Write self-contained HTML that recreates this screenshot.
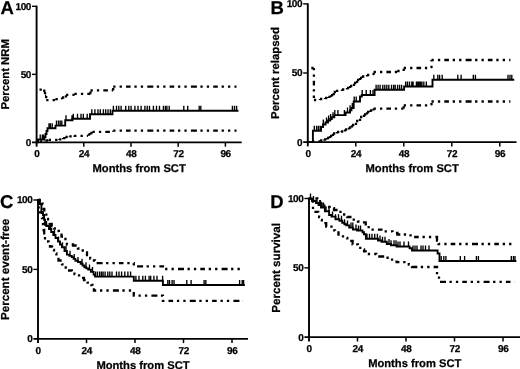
<!DOCTYPE html>
<html><head><meta charset="utf-8"><style>
html,body{margin:0;padding:0;background:#fff;}
svg{display:block;will-change:transform;}
text{font-family:"Liberation Sans", sans-serif;font-weight:bold;fill:#000;text-rendering:geometricPrecision;stroke:#000;stroke-width:0.25px;}
</style></head><body>
<svg width="520" height="369" viewBox="0 0 520 369">
<path d="M39.50,89.60H44.30M44.30,89.60V92.00M44.30,92.00H45.00M45.00,92.00V96.00M45.00,96.00H46.20M46.20,96.00V100.20M46.20,100.20H55.50M55.50,100.20V99.20M55.50,99.20H62.00M62.00,99.20V97.50M62.00,97.50H66.00M66.00,97.50V94.80M66.00,94.80H74.50M74.50,94.80V93.80M74.50,93.80H90.50M90.50,93.80V90.30M90.50,90.30H113.20M113.20,90.30V86.70M113.20,86.70H236.50" fill="none" stroke="#000" stroke-width="2.3" stroke-dasharray="2.3 4.1 2.3 4.1 4.6 3.8 2.3 4.1 2.3 4.2 6 3.5"/>
<path d="M39.80,141.50H45.80M45.80,141.50V140.50M45.80,140.50H48.70M48.70,140.50V139.90M48.70,139.90H59.10M59.10,139.90V139.30M59.10,139.30H63.10M63.10,139.30V138.10M63.10,138.10H65.40M65.40,138.10V137.00M65.40,137.00H69.40M69.40,137.00V136.40M69.40,136.40H74.10M74.10,136.40V135.80M74.10,135.80H87.90M87.90,135.80V134.70M87.90,134.70H90.20M90.20,134.70V133.00M90.20,133.00H92.50M92.50,133.00V131.80M92.50,131.80H113.20M113.20,131.80V130.70M113.20,130.70H236.50" fill="none" stroke="#000" stroke-width="2.3" stroke-dasharray="2.3 4.1 2.3 4.1 4.6 3.8 2.3 4.1 2.3 4.2 6 3.5"/>
<path d="M36.60,142.40H38.00V139.50H44.50V137.00H45.50V134.00H46.50V131.00H47.50V128.30H55.50V125.60H65.20V120.20H72.50V118.80H90.00V114.20H112.50V110.70H237.50" fill="none" stroke="#000" stroke-width="1.9" stroke-linejoin="miter" stroke-linecap="square"/>
<path d="M40.20,139.50V134.50M42.30,139.50V134.50M43.70,139.50V134.50M49.00,128.30V123.30M50.40,128.30V123.30M52.20,128.30V123.30M56.50,125.60V120.60M58.50,125.60V120.60M60.20,125.60V120.60M61.80,125.60V120.60M66.00,120.20V115.20M72.00,120.20V115.20M73.30,118.80V113.80M77.50,118.80V113.80M81.00,118.80V113.80M83.30,118.80V113.80M87.20,118.80V113.80M91.80,114.20V109.20M94.90,114.20V109.20M98.00,114.20V109.20M100.30,114.20V109.20M103.40,114.20V109.20M105.70,114.20V109.20M108.00,114.20V109.20M110.30,114.20V109.20M113.40,110.70V105.70M116.50,110.70V105.70M118.80,110.70V105.70M121.10,110.70V105.70M125.70,110.70V105.70M128.80,110.70V105.70M131.10,110.70V105.70M134.90,110.70V105.70M138.00,110.70V105.70M141.10,110.70V105.70M144.90,110.70V105.70M147.20,110.70V105.70M149.50,110.70V105.70M153.40,110.70V105.70M156.50,110.70V105.70M159.50,110.70V105.70M163.40,110.70V105.70M165.40,110.70V105.70M166.90,110.70V105.70M169.20,110.70V105.70M183.80,110.70V105.70M187.70,110.70V105.70M199.20,110.70V105.70M200.80,110.70V105.70M232.40,110.70V105.70M234.50,110.70V105.70M236.60,110.70V105.70" fill="none" stroke="#000" stroke-width="1.35"/>
<line x1="36.6" y1="5.7" x2="36.6" y2="146.70000000000002" stroke="#000" stroke-width="1.9"/>
<line x1="32.0" y1="142.4" x2="241.7" y2="142.4" stroke="#000" stroke-width="1.7"/>
<line x1="32.0" y1="6.30" x2="36.6" y2="6.30" stroke="#000" stroke-width="1.4"/>
<line x1="32.0" y1="74.35" x2="36.6" y2="74.35" stroke="#000" stroke-width="1.4"/>
<line x1="83.80" y1="142.4" x2="83.80" y2="146.70000000000002" stroke="#000" stroke-width="1.5"/>
<line x1="131.00" y1="142.4" x2="131.00" y2="146.70000000000002" stroke="#000" stroke-width="1.5"/>
<line x1="178.20" y1="142.4" x2="178.20" y2="146.70000000000002" stroke="#000" stroke-width="1.5"/>
<line x1="225.40" y1="142.4" x2="225.40" y2="146.70000000000002" stroke="#000" stroke-width="1.5"/>
<text x="31.00" y="9.70" text-anchor="end" font-size="10" letter-spacing="-0.4">100</text>
<text x="31.00" y="77.75" text-anchor="end" font-size="10" letter-spacing="-0.4">50</text>
<text x="31.00" y="145.80" text-anchor="end" font-size="10" letter-spacing="-0.4">0</text>
<text x="36.80" y="157.00" text-anchor="middle" font-size="10" letter-spacing="-0.4">0</text>
<text x="84.00" y="157.00" text-anchor="middle" font-size="10" letter-spacing="-0.4">24</text>
<text x="131.20" y="157.00" text-anchor="middle" font-size="10" letter-spacing="-0.4">48</text>
<text x="178.40" y="157.00" text-anchor="middle" font-size="10" letter-spacing="-0.4">72</text>
<text x="225.60" y="157.00" text-anchor="middle" font-size="10" letter-spacing="-0.4">96</text>
<text x="139.15" y="172.40" text-anchor="middle" font-size="11.2">Months from SCT</text>
<text transform="translate(8.8,74.35) rotate(-90)" text-anchor="middle" font-size="11.3">Percent NRM</text>
<text x="0.4" y="14.2" font-size="18.5">A</text>
<path d="M311.30,68.00H313.90M313.90,68.00V100.00M313.90,100.00H320.00M320.00,100.00V99.00M320.00,99.00H325.00M325.00,99.00V98.00M325.00,98.00H328.30M328.30,98.00V96.90M328.30,96.90H331.00M331.00,96.90V95.20M331.00,95.20H333.70M333.70,95.20V92.00M333.70,92.00H336.00M336.00,92.00V90.90M336.00,90.90H342.00M342.00,90.90V89.50M342.00,89.50H347.00M347.00,89.50V88.00M347.00,88.00H350.00M350.00,88.00V86.00M350.00,86.00H354.00M354.00,86.00V83.00M354.00,83.00H357.00M357.00,83.00V80.00M357.00,80.00H360.00M360.00,80.00V78.00M360.00,78.00H362.00M362.00,78.00V76.50M362.00,76.50H367.00M367.00,76.50V75.00M367.00,75.00H373.60M373.60,75.00V72.00M373.60,72.00H397.30M397.30,72.00V71.00M397.30,71.00H403.70M403.70,71.00V68.00M403.70,68.00H431.50M431.50,68.00V60.00M431.50,60.00H510.40" fill="none" stroke="#000" stroke-width="2.3" stroke-dasharray="2.3 4.1 2.3 4.1 4.6 3.8 2.3 4.1 2.3 4.2 6 3.5"/>
<path d="M312.00,141.50H320.00M320.00,141.50V140.50M320.00,140.50H324.00M324.00,140.50V139.50M324.00,139.50H327.00M327.00,139.50V138.00M327.00,138.00H330.00M330.00,138.00V136.00M330.00,136.00H333.00M333.00,136.00V133.50M333.00,133.50H337.00M337.00,133.50V132.00M337.00,132.00H341.00M341.00,132.00V131.50M341.00,131.50H345.00M345.00,131.50V129.50M345.00,129.50H349.00M349.00,129.50V127.50M349.00,127.50H352.00M352.00,127.50V125.00M352.00,125.00H356.00M356.00,125.00V121.00M356.00,121.00H360.00M360.00,121.00V117.00M360.00,117.00H364.00M364.00,117.00V114.50M364.00,114.50H367.00M367.00,114.50V112.00M367.00,112.00H370.00M370.00,112.00V110.50M370.00,110.50H373.60M373.60,110.50V108.60M373.60,108.60H403.70M403.70,108.60V105.30M403.70,105.30H431.50M431.50,105.30V101.50M431.50,101.50H510.40" fill="none" stroke="#000" stroke-width="2.3" stroke-dasharray="2.3 4.1 2.3 4.1 4.6 3.8 2.3 4.1 2.3 4.2 6 3.5"/>
<path d="M307.80,142.10H312.90V130.80H321.00V127.00H323.00V124.50H325.50V122.50H328.00V120.50H330.20V119.00H331.80V117.30H334.30V115.10H345.60V112.50H350.00V110.30H351.50V108.00H353.70V101.50H360.00V96.50H361.80V95.00H374.60V89.80H404.10V86.50H432.50V79.70H513.30" fill="none" stroke="#000" stroke-width="1.9" stroke-linejoin="miter" stroke-linecap="square"/>
<path d="M314.30,130.80V125.80M316.60,130.80V125.80M318.40,130.80V125.80M320.20,130.80V125.80M323.30,124.50V119.50M326.50,122.50V117.50M328.60,120.50V115.50M330.60,119.00V114.00M333.00,117.30V112.30M334.80,115.10V110.10M337.90,115.10V110.10M344.40,115.10V110.10M347.50,112.50V107.50M350.10,110.30V105.30M352.30,108.00V103.00M354.20,101.50V96.50M356.20,101.50V96.50M362.20,95.00V90.00M366.20,95.00V90.00M370.40,95.00V90.00M373.00,95.00V90.00M376.10,89.80V84.80M378.10,89.80V84.80M380.10,89.80V84.80M382.80,89.80V84.80M384.80,89.80V84.80M386.80,89.80V84.80M388.80,89.80V84.80M391.50,89.80V84.80M393.60,89.80V84.80M395.20,89.80V84.80M397.60,89.80V84.80M399.60,89.80V84.80M401.60,89.80V84.80M405.70,86.50V81.50M407.50,86.50V81.50M409.50,86.50V81.50M411.80,86.50V81.50M413.10,86.50V81.50M416.40,86.50V81.50M417.80,86.50V81.50M419.10,86.50V81.50M420.50,86.50V81.50M421.90,86.50V81.50M423.80,86.50V81.50M426.30,86.50V81.50M433.80,79.70V74.70M437.80,79.70V74.70M439.60,79.70V74.70M442.20,79.70V74.70M457.80,79.70V74.70M461.10,79.70V74.70M473.30,79.70V74.70M475.40,79.70V74.70M508.00,79.70V74.70M510.00,79.70V74.70M511.80,79.70V74.70" fill="none" stroke="#000" stroke-width="1.35"/>
<line x1="307.8" y1="3.3" x2="307.8" y2="146.4" stroke="#000" stroke-width="1.9"/>
<line x1="303.2" y1="142.1" x2="516.5" y2="142.1" stroke="#000" stroke-width="1.7"/>
<line x1="303.2" y1="3.90" x2="307.8" y2="3.90" stroke="#000" stroke-width="1.4"/>
<line x1="303.2" y1="73.00" x2="307.8" y2="73.00" stroke="#000" stroke-width="1.4"/>
<line x1="355.80" y1="142.1" x2="355.80" y2="146.4" stroke="#000" stroke-width="1.5"/>
<line x1="403.80" y1="142.1" x2="403.80" y2="146.4" stroke="#000" stroke-width="1.5"/>
<line x1="451.80" y1="142.1" x2="451.80" y2="146.4" stroke="#000" stroke-width="1.5"/>
<line x1="499.80" y1="142.1" x2="499.80" y2="146.4" stroke="#000" stroke-width="1.5"/>
<text x="302.20" y="7.30" text-anchor="end" font-size="10" letter-spacing="-0.4">100</text>
<text x="302.20" y="76.40" text-anchor="end" font-size="10" letter-spacing="-0.4">50</text>
<text x="302.20" y="145.50" text-anchor="end" font-size="10" letter-spacing="-0.4">0</text>
<text x="308.00" y="156.70" text-anchor="middle" font-size="10" letter-spacing="-0.4">0</text>
<text x="356.00" y="156.70" text-anchor="middle" font-size="10" letter-spacing="-0.4">24</text>
<text x="404.00" y="156.70" text-anchor="middle" font-size="10" letter-spacing="-0.4">48</text>
<text x="452.00" y="156.70" text-anchor="middle" font-size="10" letter-spacing="-0.4">72</text>
<text x="500.00" y="156.70" text-anchor="middle" font-size="10" letter-spacing="-0.4">96</text>
<text x="412.15" y="172.10" text-anchor="middle" font-size="11.2">Months from SCT</text>
<text transform="translate(279.2,73.00) rotate(-90)" text-anchor="middle" font-size="11.4">Percent relapsed</text>
<text x="270.4" y="13.6" font-size="18.5">B</text>
<path d="M38.50,200.00H41.00V201.00H42.50V204.00H43.50V208.80H44.30V213.00H46.30V219.00H48.00V221.50H49.70V224.00H51.70V226.20H53.90V228.50H56.60V231.00H58.80V233.30H61.50V236.50H63.60V239.00H66.90V244.50H73.00V245.50H77.90V248.50H81.00V250.50H84.10V252.50H87.00V255.00H90.20V258.50H92.50V260.50H94.90V263.20H133.80V266.30H162.90V269.00H243.00" fill="none" stroke="#000" stroke-width="2.3" stroke-dasharray="2.3 4.1 2.3 4.1 4.6 3.8 2.3 4.1 2.3 4.2 6 3.5"/>
<path d="M38.50,200.00H38.70V212.30H42.00V218.00H43.00V224.00H43.60V230.00H44.20V236.00H45.00V239.60H47.00V241.50H48.50V243.50H50.00V246.50H52.00V250.00H54.00V253.50H56.40V257.00H58.50V260.50H60.50V263.00H62.00V264.40H64.00V267.50H65.70V270.50H71.80V272.30H74.50V274.00H76.60V275.40H80.30V277.80H84.00V280.20H87.60V282.70H91.30V285.00H92.50V287.50H93.90V290.50H133.80V295.60H162.90V300.80H243.00" fill="none" stroke="#000" stroke-width="2.3" stroke-dasharray="2.3 4.1 2.3 4.1 4.6 3.8 2.3 4.1 2.3 4.2 6 3.5"/>
<path d="M38.00,200.00H38.70V204.00H41.40V212.30H43.00V215.00H44.10V219.70H45.00V224.80H46.30V226.00H49.00V229.00H51.20V232.00H53.30V235.00H55.50V238.00H58.00V241.50H60.00V244.50H62.00V247.30H64.50V251.00H66.90V254.60H69.35V255.85H71.80V257.10H73.60V258.90H75.40V260.70H78.00V262.00H80.70V263.80H82.55V265.50H84.40V267.20H86.30V268.40H88.20V269.60H90.90V271.90H93.60V274.60H95.00V276.60H133.80V280.80H162.90V285.00H243.90" fill="none" stroke="#000" stroke-width="1.9" stroke-linejoin="miter" stroke-linecap="square"/>
<path d="M39.00,204.00V199.00M40.20,204.00V199.00M46.50,226.00V221.00M50.50,229.00V224.00M54.50,235.00V230.00M58.50,241.50V236.50M62.50,247.30V242.30M66.00,251.00V246.00M70.00,255.85V250.85M74.20,258.90V253.90M78.00,262.00V257.00M82.00,263.80V258.80M86.00,267.20V262.20M89.50,269.60V264.60M92.50,271.90V266.90M95.60,276.60V271.60M97.50,276.60V271.60M99.70,276.60V271.60M101.50,276.60V271.60M103.10,276.60V271.60M105.10,276.60V271.60M107.80,276.60V271.60M109.80,276.60V271.60M112.00,276.60V271.60M116.50,276.60V271.60M119.00,276.60V271.60M121.60,276.60V271.60M124.80,276.60V271.60M127.90,276.60V271.60M130.60,276.60V271.60M135.90,280.80V275.80M139.00,280.80V275.80M142.80,280.80V275.80M145.40,280.80V275.80M149.10,280.80V275.80M150.70,280.80V275.80M153.90,280.80V275.80M157.00,280.80V275.80M162.60,280.80V275.80M167.80,285.00V280.00M169.50,285.00V280.00M172.10,285.00V280.00M174.00,285.00V280.00M186.80,285.00V280.00M191.10,285.00V280.00M204.10,285.00V280.00M205.80,285.00V280.00M239.60,285.00V280.00M242.20,285.00V280.00M243.60,285.00V280.00" fill="none" stroke="#000" stroke-width="1.35"/>
<line x1="38.0" y1="199.4" x2="38.0" y2="343.1" stroke="#000" stroke-width="1.9"/>
<line x1="33.4" y1="338.8" x2="248.0" y2="338.8" stroke="#000" stroke-width="1.7"/>
<line x1="33.4" y1="200.00" x2="38.0" y2="200.00" stroke="#000" stroke-width="1.4"/>
<line x1="33.4" y1="269.40" x2="38.0" y2="269.40" stroke="#000" stroke-width="1.4"/>
<line x1="86.50" y1="338.8" x2="86.50" y2="343.1" stroke="#000" stroke-width="1.5"/>
<line x1="135.00" y1="338.8" x2="135.00" y2="343.1" stroke="#000" stroke-width="1.5"/>
<line x1="183.50" y1="338.8" x2="183.50" y2="343.1" stroke="#000" stroke-width="1.5"/>
<line x1="232.00" y1="338.8" x2="232.00" y2="343.1" stroke="#000" stroke-width="1.5"/>
<text x="32.40" y="203.40" text-anchor="end" font-size="10" letter-spacing="-0.4">100</text>
<text x="32.40" y="272.80" text-anchor="end" font-size="10" letter-spacing="-0.4">50</text>
<text x="32.40" y="342.20" text-anchor="end" font-size="10" letter-spacing="-0.4">0</text>
<text x="38.20" y="354.00" text-anchor="middle" font-size="10" letter-spacing="-0.4">0</text>
<text x="86.70" y="354.00" text-anchor="middle" font-size="10" letter-spacing="-0.4">24</text>
<text x="135.20" y="354.00" text-anchor="middle" font-size="10" letter-spacing="-0.4">48</text>
<text x="183.70" y="354.00" text-anchor="middle" font-size="10" letter-spacing="-0.4">72</text>
<text x="232.20" y="354.00" text-anchor="middle" font-size="10" letter-spacing="-0.4">96</text>
<text x="143.00" y="368.80" text-anchor="middle" font-size="11.2">Months from SCT</text>
<text transform="translate(9.3,269.40) rotate(-90)" text-anchor="middle" font-size="11.6">Percent event-free</text>
<text x="0.0" y="208.2" font-size="18.5">C</text>
<path d="M309.00,198.50H317.30V200.30H320.00V203.00H322.60V205.60H326.00V207.00H329.70V208.20H334.00V210.00H338.50V211.80H343.00V214.50H347.30V217.00H352.60V219.70H357.90V221.50H362.40V222.30H365.70V227.20H369.80V229.60H382.80V231.30H392.50V232.90H397.40V234.50H408.80V235.30H412.00V237.00H437.00V240.50H438.50V244.00H514.40" fill="none" stroke="#000" stroke-width="2.3" stroke-dasharray="2.3 4.1 2.3 4.1 4.6 3.8 2.3 4.1 2.3 4.2 6 3.5"/>
<path d="M312.90,200.50H313.00V211.80H318.20V213.50H319.10V217.00H320.50V220.00H321.80V223.20H326.20V226.70H331.50V230.30H335.00V232.50H338.50V234.70H343.00V238.00H347.30V240.90H352.60V244.40H357.90V247.90H362.40V249.50H364.10V251.40H365.70V254.00H376.30V256.50H387.60V259.70H396.60V262.20H408.80V264.60H412.00V267.00H437.00V274.30H439.00V281.90H514.40" fill="none" stroke="#000" stroke-width="2.3" stroke-dasharray="2.3 4.1 2.3 4.1 4.6 3.8 2.3 4.1 2.3 4.2 6 3.5"/>
<path d="M309.00,198.50H312.00V201.00H316.00V203.00H318.50V205.00H321.00V207.50H324.90V211.20H329.10V215.00H331.50V216.60H335.50V219.30H339.50V220.80H342.20V222.70H344.40V224.20H346.30V225.40H349.20V227.60H353.00V229.50H357.10V230.50H362.50V232.30H364.00V234.20H365.90V238.80H378.00V240.50H381.50V241.80H386.80V244.00H391.00V245.30H396.60V246.50H409.60V248.30H412.00V250.50H437.60V253.50H439.50V261.00H515.40" fill="none" stroke="#000" stroke-width="1.9" stroke-linejoin="miter" stroke-linecap="square"/>
<path d="M310.50,198.50V193.50M313.50,201.00V196.00M317.00,203.00V198.00M320.00,205.00V200.00M322.00,207.50V202.50M323.50,207.50V202.50M326.00,211.20V206.20M329.00,211.20V206.20M332.50,216.60V211.60M335.50,219.30V214.30M338.50,219.30V214.30M341.50,220.80V215.80M344.50,224.20V219.20M347.50,225.40V220.40M351.00,227.60V222.60M352.80,227.60V222.60M356.00,229.50V224.50M358.50,230.50V225.50M360.50,230.50V225.50M367.00,238.80V233.80M369.50,238.80V233.80M372.00,238.80V233.80M374.70,238.80V233.80M377.40,238.80V233.80M380.00,240.50V235.50M382.50,241.80V236.80M385.00,241.80V236.80M389.00,244.00V239.00M391.00,245.30V240.30M394.00,245.30V240.30M396.00,245.30V240.30M398.00,246.50V241.50M400.00,246.50V241.50M404.00,246.50V241.50M408.50,246.50V241.50M413.00,250.50V245.50M415.00,250.50V245.50M417.00,250.50V245.50M421.00,250.50V245.50M423.00,250.50V245.50M425.50,250.50V245.50M429.00,250.50V245.50M441.20,261.00V256.00M443.80,261.00V256.00M445.90,261.00V256.00M460.30,261.00V256.00M464.60,261.00V256.00M476.40,261.00V256.00M478.40,261.00V256.00M511.30,261.00V256.00M513.40,261.00V256.00M515.00,261.00V256.00" fill="none" stroke="#000" stroke-width="1.35"/>
<line x1="309.0" y1="197.9" x2="309.0" y2="341.5" stroke="#000" stroke-width="1.9"/>
<line x1="304.4" y1="337.2" x2="520.5" y2="337.2" stroke="#000" stroke-width="1.7"/>
<line x1="304.4" y1="198.50" x2="309.0" y2="198.50" stroke="#000" stroke-width="1.4"/>
<line x1="304.4" y1="267.85" x2="309.0" y2="267.85" stroke="#000" stroke-width="1.4"/>
<line x1="357.50" y1="337.2" x2="357.50" y2="341.5" stroke="#000" stroke-width="1.5"/>
<line x1="406.00" y1="337.2" x2="406.00" y2="341.5" stroke="#000" stroke-width="1.5"/>
<line x1="454.50" y1="337.2" x2="454.50" y2="341.5" stroke="#000" stroke-width="1.5"/>
<line x1="503.00" y1="337.2" x2="503.00" y2="341.5" stroke="#000" stroke-width="1.5"/>
<text x="303.40" y="201.90" text-anchor="end" font-size="10" letter-spacing="-0.4">100</text>
<text x="303.40" y="271.25" text-anchor="end" font-size="10" letter-spacing="-0.4">50</text>
<text x="303.40" y="340.60" text-anchor="end" font-size="10" letter-spacing="-0.4">0</text>
<text x="309.20" y="351.80" text-anchor="middle" font-size="10" letter-spacing="-0.4">0</text>
<text x="357.70" y="351.80" text-anchor="middle" font-size="10" letter-spacing="-0.4">24</text>
<text x="406.20" y="351.80" text-anchor="middle" font-size="10" letter-spacing="-0.4">48</text>
<text x="454.70" y="351.80" text-anchor="middle" font-size="10" letter-spacing="-0.4">72</text>
<text x="503.20" y="351.80" text-anchor="middle" font-size="10" letter-spacing="-0.4">96</text>
<text x="414.75" y="367.20" text-anchor="middle" font-size="11.2">Months from SCT</text>
<text transform="translate(279.8,267.85) rotate(-90)" text-anchor="middle" font-size="11.6">Percent survival</text>
<text x="270.2" y="208.0" font-size="18.5">D</text>
</svg>
</body></html>
